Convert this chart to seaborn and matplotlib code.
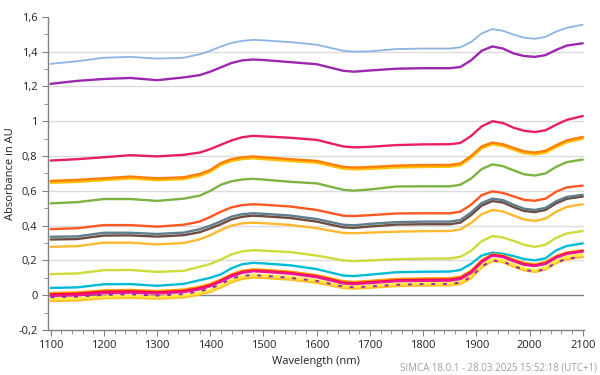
import numpy as np
import pandas as pd
import seaborn as sns
import matplotlib.pyplot as plt
from matplotlib.ticker import MultipleLocator, FuncFormatter

# ----------------------------------------
# Data
# ----------------------------------------
wavelength = [1100, 1150, 1200, 1250, 1300, 1350, 1380, 1400, 1420, 1440, 1460, 1480,
              1500, 1550, 1600, 1650, 1670, 1700, 1750, 1800, 1850, 1870, 1890, 1910,
              1930, 1950, 1970, 1990, 2010, 2030, 2050, 2070, 2100]

light_blue = [1.330, 1.345, 1.365, 1.370, 1.360, 1.365, 1.385, 1.405, 1.430, 1.450, 1.462, 1.468,
              1.465, 1.455, 1.440, 1.405, 1.400, 1.402, 1.415, 1.418, 1.418, 1.425, 1.455, 1.505,
              1.530, 1.520, 1.498, 1.480, 1.474, 1.485, 1.515, 1.537, 1.555]
purple = [1.215, 1.232, 1.243, 1.249, 1.236, 1.252, 1.265, 1.285, 1.310, 1.335, 1.350, 1.355,
          1.352, 1.340, 1.328, 1.290, 1.285, 1.292, 1.302, 1.305, 1.305, 1.312, 1.350, 1.405,
          1.430, 1.418, 1.390, 1.375, 1.370, 1.380, 1.410, 1.435, 1.448]
crimson = [0.774, 0.782, 0.793, 0.805, 0.798, 0.807, 0.820, 0.840, 0.865, 0.890, 0.908, 0.916,
           0.913, 0.905, 0.893, 0.855, 0.850, 0.853, 0.863, 0.867, 0.868, 0.875, 0.915, 0.970,
           1.000, 0.990, 0.963, 0.945, 0.938, 0.948, 0.980, 1.008, 1.030]
gold_a = [0.647, 0.652, 0.662, 0.672, 0.662, 0.668, 0.687, 0.710, 0.750, 0.772, 0.783, 0.788,
          0.783, 0.772, 0.762, 0.728, 0.724, 0.727, 0.735, 0.738, 0.739, 0.747, 0.790, 0.845,
          0.868, 0.858, 0.837, 0.817, 0.810, 0.820, 0.852, 0.880, 0.900]
orange_a = [0.657, 0.663, 0.672, 0.682, 0.672, 0.678, 0.697, 0.720, 0.760, 0.782, 0.793, 0.798,
            0.793, 0.782, 0.772, 0.738, 0.734, 0.737, 0.745, 0.748, 0.749, 0.757, 0.800, 0.855,
            0.878, 0.868, 0.847, 0.827, 0.820, 0.830, 0.862, 0.890, 0.910]
green = [0.528, 0.535, 0.553, 0.553, 0.542, 0.555, 0.572, 0.600, 0.635, 0.655, 0.665, 0.669,
         0.665, 0.652, 0.643, 0.606, 0.601, 0.608, 0.625, 0.626, 0.626, 0.635, 0.670, 0.725,
         0.752, 0.742, 0.718, 0.695, 0.688, 0.700, 0.738, 0.765, 0.780]
red_orange = [0.380, 0.385, 0.403, 0.403, 0.394, 0.405, 0.423, 0.450, 0.480, 0.505, 0.518, 0.523,
              0.520, 0.510, 0.490, 0.457, 0.455, 0.460, 0.470, 0.471, 0.471, 0.480, 0.520, 0.575,
              0.597, 0.588, 0.568, 0.548, 0.543, 0.555, 0.595, 0.620, 0.630]
brown = [0.320, 0.323, 0.343, 0.344, 0.337, 0.345, 0.362, 0.384, 0.408, 0.436, 0.451, 0.457,
         0.454, 0.444, 0.423, 0.390, 0.387, 0.395, 0.406, 0.408, 0.408, 0.417, 0.460, 0.515,
         0.541, 0.533, 0.506, 0.484, 0.478, 0.490, 0.528, 0.554, 0.567]
gray = [0.336, 0.338, 0.359, 0.359, 0.352, 0.360, 0.379, 0.400, 0.425, 0.452, 0.466, 0.471,
        0.468, 0.458, 0.438, 0.405, 0.402, 0.410, 0.420, 0.423, 0.423, 0.432, 0.475, 0.530,
        0.555, 0.547, 0.520, 0.497, 0.490, 0.502, 0.540, 0.565, 0.577]
amber = [0.278, 0.282, 0.302, 0.302, 0.292, 0.300, 0.321, 0.345, 0.375, 0.400, 0.413, 0.417,
         0.414, 0.404, 0.385, 0.358, 0.356, 0.360, 0.365, 0.368, 0.369, 0.378, 0.415, 0.465,
         0.490, 0.482, 0.458, 0.435, 0.427, 0.440, 0.480, 0.508, 0.523]
lime = [0.121, 0.125, 0.144, 0.145, 0.134, 0.140, 0.163, 0.180, 0.205, 0.235, 0.252, 0.259,
        0.256, 0.248, 0.228, 0.200, 0.196, 0.200, 0.207, 0.210, 0.211, 0.220, 0.255, 0.310,
        0.340, 0.332, 0.312, 0.290, 0.278, 0.290, 0.330, 0.355, 0.369]
cyan = [0.042, 0.045, 0.063, 0.064, 0.054, 0.065, 0.086, 0.100, 0.120, 0.155, 0.178, 0.186,
        0.183, 0.172, 0.150, 0.113, 0.110, 0.118, 0.132, 0.135, 0.136, 0.145, 0.180, 0.228,
        0.245, 0.238, 0.225, 0.208, 0.200, 0.212, 0.258, 0.283, 0.298]
amber_low = [-0.033, -0.030, -0.017, -0.014, -0.020, -0.012, 0.004, 0.020, 0.045, 0.075, 0.094, 0.102,
             0.100, 0.090, 0.072, 0.042, 0.038, 0.043, 0.053, 0.056, 0.057, 0.065, 0.098, 0.160,
             0.197, 0.190, 0.165, 0.143, 0.134, 0.148, 0.185, 0.207, 0.220]
yellow = [-0.021, -0.018, -0.008, -0.004, -0.010, -0.002, 0.014, 0.030, 0.056, 0.087, 0.108, 0.117,
          0.114, 0.104, 0.085, 0.052, 0.048, 0.053, 0.064, 0.067, 0.068, 0.076, 0.110, 0.172,
          0.207, 0.200, 0.176, 0.154, 0.144, 0.158, 0.196, 0.220, 0.235]
magenta = [-0.004, 0.000, 0.012, 0.015, 0.010, 0.018, 0.034, 0.052, 0.078, 0.108, 0.129, 0.138,
           0.135, 0.124, 0.104, 0.068, 0.064, 0.070, 0.081, 0.083, 0.084, 0.093, 0.128, 0.190,
           0.228, 0.220, 0.196, 0.175, 0.168, 0.180, 0.216, 0.238, 0.252]
red = [0.004, 0.008, 0.020, 0.022, 0.016, 0.024, 0.040, 0.057, 0.083, 0.113, 0.133, 0.141,
       0.139, 0.128, 0.108, 0.072, 0.068, 0.074, 0.085, 0.088, 0.089, 0.098, 0.133, 0.194,
       0.231, 0.223, 0.199, 0.178, 0.171, 0.183, 0.219, 0.241, 0.254]
orange_b = [0.012, 0.016, 0.027, 0.030, 0.024, 0.032, 0.048, 0.065, 0.090, 0.120, 0.140, 0.148,
            0.146, 0.135, 0.115, 0.080, 0.076, 0.082, 0.093, 0.096, 0.097, 0.105, 0.140, 0.200,
            0.235, 0.228, 0.205, 0.185, 0.177, 0.190, 0.225, 0.245, 0.258]
purple_dash = [-0.012, -0.008, 0.002, 0.005, -0.002, 0.006, 0.022, 0.038, 0.064, 0.095, 0.112, 0.115,
               0.112, 0.100, 0.082, 0.050, 0.045, 0.050, 0.060, 0.064, 0.065, 0.072, 0.105, 0.165,
               0.200, 0.193, 0.168, 0.146, 0.136, 0.150, 0.188, 0.210, 0.221]

spectra = {
    'S1': (light_blue, '#8DB4E2', 1.3),
    'S2': (purple, '#9C27B0', 1.7),
    'S3': (crimson, '#E91E63', 1.7),
    'S4': (gold_a, '#FFC107', 1.9),
    'S5': (orange_a, '#FF7F00', 1.7),
    'S6': (green, '#7CB342', 1.7),
    'S7': (red_orange, '#FF5722', 1.7),
    'S8': (brown, '#6D4C41', 1.7),
    'S9': (gray, '#607D8B', 1.7),
    'S10': (amber, '#FFB92E', 1.7),
    'S11': (lime, '#CDDC39', 1.7),
    'S12': (cyan, '#00BCD4', 1.7),
    'S13': (amber_low, '#FFC02A', 1.8),
    'S14': (yellow, '#FFEB3B', 1.8),
    'S15': (orange_b, '#FF9800', 1.8),
    'S16': (red, '#F5003D', 1.7),
    'S17': (magenta, '#F0168C', 1.8),
}

# ----------------------------------------
# Plot
# ----------------------------------------
sns.set_style('white')
plt.rcParams['font.family'] = ['Open Sans', 'DejaVu Sans']

fig = plt.figure(figsize=(6, 3.75), dpi=100)
ax = fig.add_axes([0.08, 0.12, 0.893, 0.835])

for y in [0.2, 0.4, 0.6, 0.8, 1.0, 1.2, 1.4]:
    ax.axhline(y, color='#DCDCDC', linewidth=1, zorder=0)
ax.axhline(0, color='#7F7F7F', linewidth=1, zorder=0.5)

for name, (vals, color, lw) in spectra.items():
    df = pd.DataFrame({'wavelength': wavelength, 'absorbance': vals})
    sns.lineplot(data=df, x='wavelength', y='absorbance', color=color,
                 linewidth=lw, ax=ax, sort=False)

df = pd.DataFrame({'wavelength': wavelength, 'absorbance': purple_dash})
sns.lineplot(data=df, x='wavelength', y='absorbance', color='#9C27B0',
             linewidth=1.4, ax=ax, sort=False, dashes=False)
ax.lines[-1].set_linestyle((0, (2, 4)))

ax.set_xlim(1095, 2102)
ax.set_ylim(-0.2, 1.6)
ax.xaxis.set_major_locator(MultipleLocator(100))
ax.xaxis.set_minor_locator(MultipleLocator(20))
ax.yaxis.set_major_locator(MultipleLocator(0.2))
ax.yaxis.set_minor_locator(MultipleLocator(0.1))
ax.yaxis.set_major_formatter(FuncFormatter(lambda v, p: f"{round(v, 1):g}".replace('.', ',')))

for s in ['top', 'right']:
    ax.spines[s].set_visible(False)
for s in ['left', 'bottom']:
    ax.spines[s].set_color('#808080')
    ax.spines[s].set_linewidth(1)
ax.tick_params(axis='both', which='both', direction='out', color='#808080',
               labelsize=8, labelcolor='#222222', left=True, bottom=True)
ax.tick_params(which='major', length=4)
ax.tick_params(which='minor', length=3)

ax.set_xlabel('Wavelength (nm)', fontsize=8, color='#222222', labelpad=3)
ax.set_ylabel('Absorbance in AU', fontsize=8, color='#222222', labelpad=2)

fig.text(0.995, 0.018, 'SIMCA 18.0.1 - 28.03.2025 15:52:18 (UTC+1)', ha='right',
         va='center', fontsize=7, color='#A0A0A0')

plt.savefig('out.png', dpi=100)
